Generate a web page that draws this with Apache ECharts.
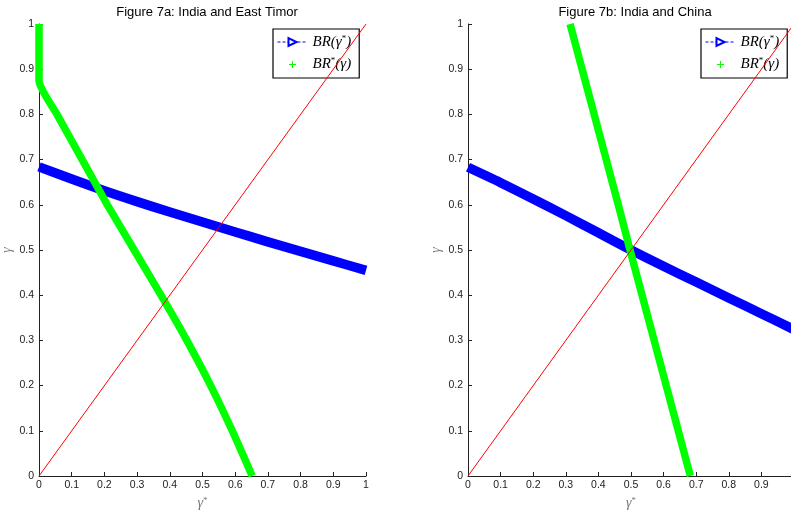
<!DOCTYPE html>
<html>
<head>
<meta charset="utf-8">
<script src="https://cdn.jsdelivr.net/npm/echarts@6/dist/echarts.min.js"></script>
<style>
html,body{margin:0;padding:0;background:#fff;}
#chart{width:791px;height:510px;}
</style>
</head>
<body>
<div id="chart"></div>
<script>
// ---- data ----
const titles = ['Figure 7a: India and East Timor', 'Figure 7b: India and China'];
const seriesNames = ['BR(γ*)', 'BR*(γ)'];
// BR(γ*): γ as a function of γ*
const gammaStarGrid = [0, 0.1, 0.2, 0.3, 0.4, 0.5, 0.6, 0.7, 0.8, 0.9, 1.0];
const brTimor = [0.684, 0.657, 0.631, 0.607, 0.584, 0.562, 0.540, 0.518, 0.497, 0.476, 0.455];
const brChina = [0.683, 0.649, 0.613, 0.576, 0.538, 0.500, 0.464, 0.429, 0.394, 0.359, 0.324];
// BR*(γ): γ* as a function of γ
const gammaGridTimor = [1, 0.875, 0.8, 0.7, 0.6, 0.5, 0.4, 0.3, 0.2, 0.1, 0];
const brStarTimor = [0, 0, 0.055, 0.132, 0.209, 0.291, 0.373, 0.452, 0.525, 0.591, 0.652];
const gammaGridChina = [1, 0.9, 0.8, 0.7, 0.6, 0.5, 0.4, 0.3, 0.2, 0.1, 0];
const brStarChina = [0.313, 0.350, 0.387, 0.424, 0.461, 0.497, 0.534, 0.571, 0.608, 0.645, 0.682];
// 45-degree line
const diagonal = [0, 1];

const chart = echarts.init(document.getElementById('chart'), null, {renderer: 'canvas'});
const axisColor = '#222';
const labelFont = 'Liberation Sans';

function xAxisCfg(idx, hideMax) {
  return {
    type: 'value', gridIndex: idx, min: 0, max: 1, interval: 0.1,
    name: '{g|γ}{s|*}', nameLocation: 'middle', nameGap: 19,
    nameTextStyle: {rich: {
      g: {fontFamily: 'Liberation Serif', fontStyle: 'italic', fontSize: 14, color: '#777'},
      s: {fontFamily: 'Liberation Serif', fontSize: 9, color: '#777', verticalAlign: 'top', padding: [0,0,6,0]}
    }},
    axisLine: {show: true, onZero: false, lineStyle: {color: axisColor, width: 1}},
    axisTick: {show: true, inside: true, length: 4, lineStyle: {color: axisColor}},
    axisLabel: {color: axisColor, fontSize: 10.5, fontFamily: labelFont, margin: 4, showMaxLabel: !hideMax, hideOverlap: false},
    splitLine: {show: false}
  };
}
function yAxisCfg(idx) {
  return {
    type: 'value', gridIndex: idx, min: 0, max: 1, interval: 0.1,
    name: 'γ', nameLocation: 'middle', nameGap: 25, nameRotate: 90,
    nameTextStyle: {fontFamily: 'Liberation Serif', fontStyle: 'italic', fontSize: 14, color: '#777'},
    axisLine: {show: true, onZero: false, lineStyle: {color: axisColor, width: 1}},
    axisTick: {show: true, inside: true, length: 4, lineStyle: {color: axisColor}},
    axisLabel: {color: axisColor, fontSize: 10.5, fontFamily: labelFont, margin: 5, hideOverlap: false},
    splitLine: {show: false}
  };
}
function legendCfg(left) {
  return {
    left: left, top: 29, orient: 'vertical',
    backgroundColor: '#fff', borderColor: '#000', borderWidth: 1.2, borderRadius: 0,
    padding: [5, 8, 6, 4], itemGap: 7, itemWidth: 30, itemHeight: 10,
    selectedMode: false,
    formatter: function (name) {
      return name === seriesNames[0] ? '{t|BR(}{g|γ}{s|*}{t|)}' : '{t|BR}{s|*}{t|(}{g|γ}{t|)}';
    },
    textStyle: {rich: {
      t: {fontFamily: 'Liberation Serif', fontStyle: 'italic', fontSize: 15, color: '#000'},
      g: {fontFamily: 'Liberation Serif', fontStyle: 'italic', fontSize: 15, color: '#000'},
      s: {fontFamily: 'Liberation Serif', fontSize: 9, color: '#000', verticalAlign: 'top', padding: [0,0,7,0]}
    }},
    data: [
      {name: seriesNames[0],
        itemStyle: {color: '#0000ff', borderColor: '#0000ff', borderWidth: 1},
        lineStyle: {type: [3, 2], width: 1, color: '#0000ff'}},
      {name: seriesNames[1], icon: 'path://M-1.5,-1.5M8.5,8.5M3,0H4V3H7V4H4V7H3V4H0V3H3Z',
        itemStyle: {color: '#00ff00'}}
    ]
  };
}

function pairs(xs, ys) { return xs.map((x, i) => [x, ys[i]]); }

function panelSeries(idx, brY, starX, starY) {
  return [
    {name: seriesNames[0], type: 'line', xAxisIndex: idx, yAxisIndex: idx,
      data: pairs(gammaStarGrid, brY), showSymbol: false, symbol: 'emptyTriangle', symbolRotate: -90,
      smooth: 0.3,
      lineStyle: {color: '#0000ff', width: 9.5, cap: 'butt', join: 'round'},
      itemStyle: {color: '#0000ff'}, clip: false, silent: true, z: 2},
    {name: seriesNames[1], type: 'line', xAxisIndex: idx, yAxisIndex: idx,
      data: pairs(starX, starY), showSymbol: false, symbol: 'none', smooth: 0.2,
      lineStyle: {color: '#00ff00', width: 7.5, cap: 'butt', join: 'round'},
      itemStyle: {color: '#00ff00'}, clip: false, silent: true, z: 3},
    {name: 'diag', type: 'line', xAxisIndex: idx, yAxisIndex: idx,
      data: pairs(diagonal, diagonal), showSymbol: false, symbol: 'none',
      lineStyle: {color: '#ff0000', width: 1}, silent: true, z: 4}
  ];
}

chart.setOption({
  animation: false,
  backgroundColor: '#fff',
  title: [
    {text: titles[0], left: 202, top: 1, textAlign: 'center',
      textStyle: {fontSize: 13, fontWeight: 'normal', fontFamily: labelFont, color: '#000'}},
    {text: titles[1], left: 630, top: 1, textAlign: 'center',
      textStyle: {fontSize: 13, fontWeight: 'normal', fontFamily: labelFont, color: '#000'}}
  ],
  legend: [legendCfg(273), legendCfg(701)],
  grid: [
    {left: 39, top: 24, width: 327, height: 452, containLabel: false, outerBoundsMode: 'none'},
    {left: 468, top: 24, width: 326, height: 452, containLabel: false, outerBoundsMode: 'none'}
  ],
  xAxis: [xAxisCfg(0, false), xAxisCfg(1, true)],
  yAxis: [yAxisCfg(0), yAxisCfg(1)],
  series: [].concat(
    panelSeries(0, brTimor, brStarTimor, gammaGridTimor),
    panelSeries(1, brChina, brStarChina, gammaGridChina)
  )
});
</script>
</body>
</html>
